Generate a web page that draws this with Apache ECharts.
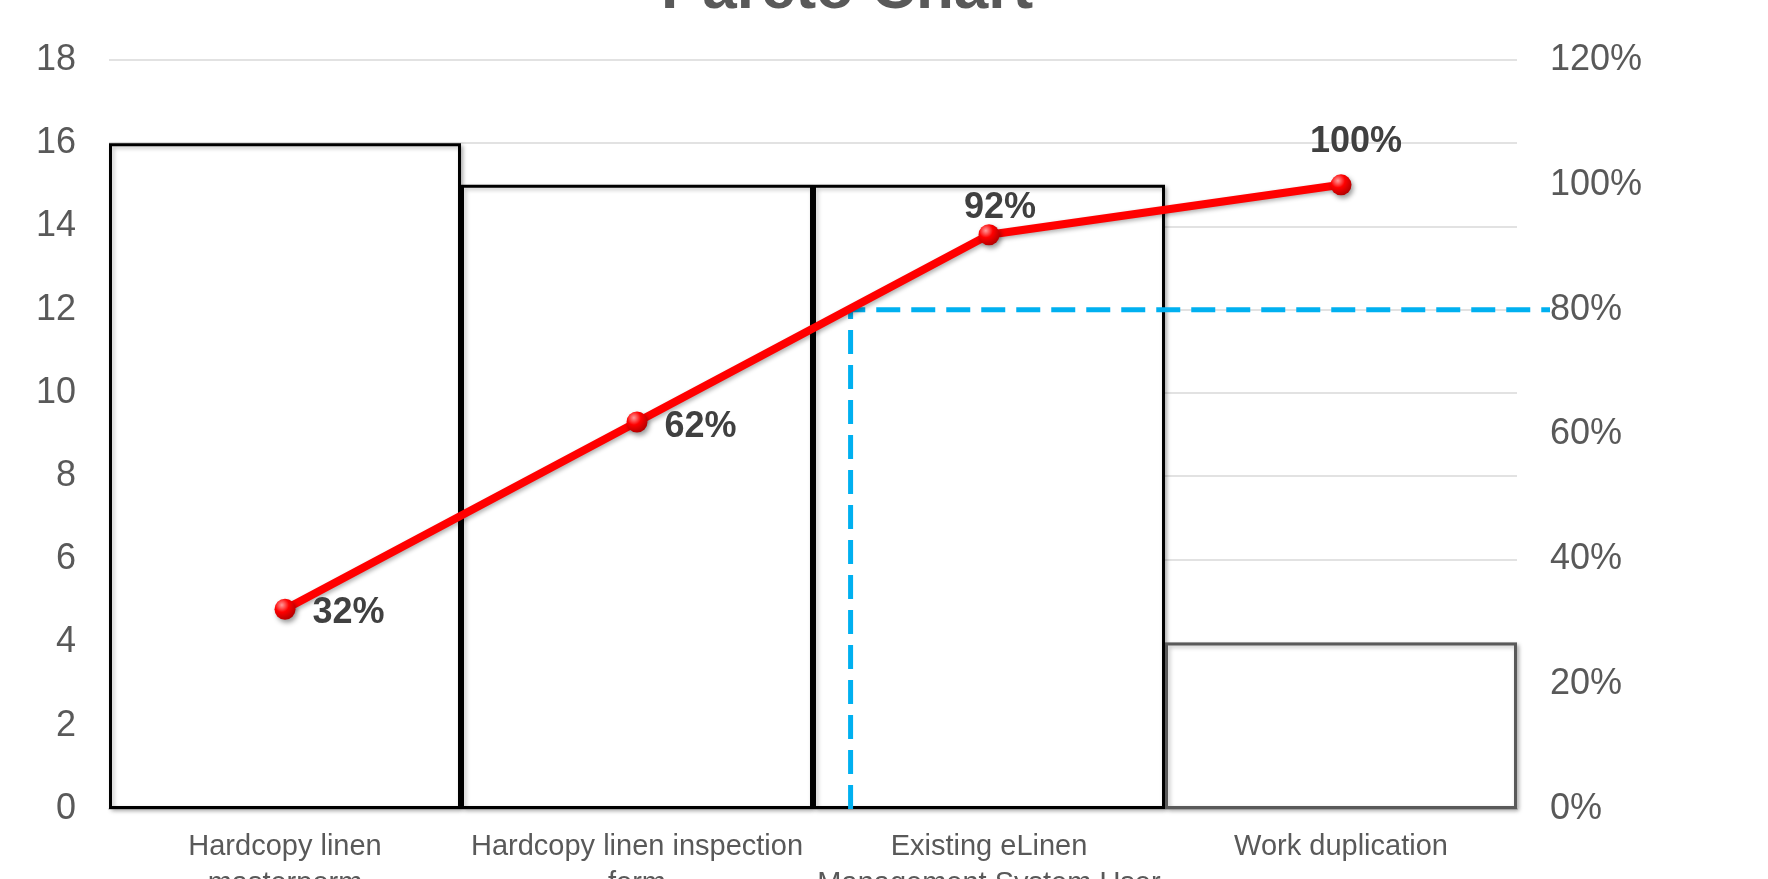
<!DOCTYPE html>
<html>
<head>
<meta charset="utf-8">
<script src="https://cdn.jsdelivr.net/npm/echarts@6/dist/echarts.min.js"></script>
<style>
html,body{margin:0;padding:0;background:#fff;}
#chart{width:1768px;height:879px;}
</style>
</head>
<body>
<div id="chart"></div>
<script>
var categories = ['Hardcopy linen\nmasterporm', 'Hardcopy linen inspection\nform', 'Existing eLinen\nManagement System User', 'Work duplication'];
var counts = [16, 15, 15, 4];
var cumulativePct = [32, 62, 92, 100];
var cutoffX = [2.11, 2.11, 4.1];
var cutoffY = [0, 80, 80];

var chart = echarts.init(document.getElementById('chart'));
var font = 'Liberation Sans, Arial, sans-serif';

var barData = counts.map(function (v, i) {
  return i === counts.length - 1 ? { value: v, itemStyle: { borderColor: '#595959' } } : v;
});
var labelOffsets = [[12, 4], [12, 5], [11, 7], [15, -9]];
var labelPos = ['right', 'right', 'top', 'top'];
var lineData = cumulativePct.map(function (v, i) {
  return {
    value: v,
    label: { position: labelPos[i], offset: labelOffsets[i] }
  };
});

var ball = new echarts.graphic.RadialGradient(0.35, 0.3, 0.75, [
  { offset: 0, color: '#ff9a9a' },
  { offset: 0.45, color: '#ff0000' },
  { offset: 1, color: '#b00000' }
]);

chart.setOption({
  animation: false,
  title: {
    text: 'Pareto Chart',
    left: 842,
    top: -45,
    textAlign: 'center',
    textStyle: { fontFamily: font, fontSize: 62, fontWeight: 'bold', color: '#595959' }
  },
  grid: [
    { left: 109, right: 251, top: 60, bottom: 70, containLabel: false, outerBoundsMode: 'none' },
    { left: 109, right: 218, top: 60, bottom: 70, containLabel: false, outerBoundsMode: 'none' }
  ],
  xAxis: [
    {
      type: 'category',
      data: categories,
      gridIndex: 0,
      axisTick: { show: false },
      axisLine: { show: true, lineStyle: { color: '#d9d9d9', width: 2 } },
      axisLabel: { fontFamily: font, fontSize: 29, color: '#595959', margin: 19, lineHeight: 37, interval: 0 }
    },
    { type: 'value', gridIndex: 1, min: 0, max: 4.1, show: false }
  ],
  yAxis: [
    {
      type: 'value', min: 0, max: 18, interval: 2, gridIndex: 0,
      axisLine: { show: false }, axisTick: { show: false },
      splitLine: { lineStyle: { color: '#d9d9d9', width: 1.5 } },
      axisLabel: { fontFamily: font, fontSize: 36, color: '#595959', margin: 33 }
    },
    {
      type: 'value', min: 0, max: 120, interval: 20, position: 'right', gridIndex: 0,
      axisLine: { show: false }, axisTick: { show: false },
      splitLine: { show: false },
      axisLabel: { fontFamily: font, fontSize: 36, color: '#595959', margin: 33, formatter: '{value}%' }
    },
    { type: 'value', min: 0, max: 120, gridIndex: 1, show: false }
  ],
  series: [
    {
      type: 'bar',
      data: barData,
      barCategoryGap: '0%',
      itemStyle: {
        color: '#ffffff', borderColor: '#000000', borderWidth: 3,
        shadowColor: 'rgba(0,0,0,0.25)', shadowBlur: 4, shadowOffsetX: 2, shadowOffsetY: 2
      },
      z: 2
    },
    {
      type: 'line',
      xAxisIndex: 1,
      yAxisIndex: 2,
      data: cutoffX.map(function (x, i) { return [x, cutoffY[i]]; }),
      clip: false,
      symbol: 'none',
      lineStyle: { color: '#00B0F0', width: 5, type: [24, 11] },
      z: 3
    },
    {
      type: 'line',
      yAxisIndex: 1,
      data: lineData,
      symbol: 'circle',
      symbolSize: 21,
      itemStyle: { color: ball, borderWidth: 0, shadowColor: 'rgba(0,0,0,0.4)', shadowBlur: 5, shadowOffsetX: 2, shadowOffsetY: 3 },
      lineStyle: { color: '#ff0000', width: 8, shadowColor: 'rgba(0,0,0,0.3)', shadowBlur: 4, shadowOffsetX: 2, shadowOffsetY: 2 },
      label: {
        show: true,
        formatter: '{c}%',
        fontFamily: font, fontSize: 36, fontWeight: 'bold', color: '#404040'
      },
      z: 4
    }
  ]
});
</script>
</body>
</html>
